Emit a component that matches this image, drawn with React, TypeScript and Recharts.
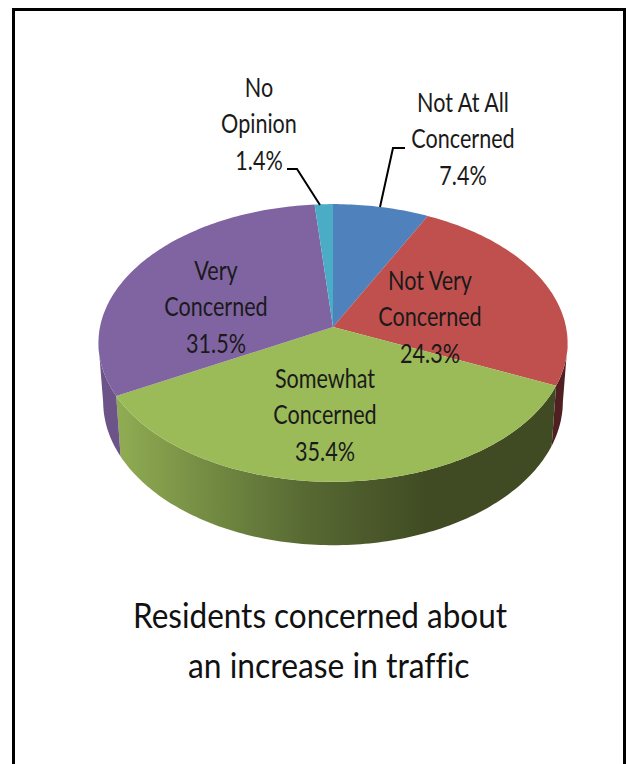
import React from "react";
import { PieChart, Pie } from "recharts";

const categories = [
  ["Not At All", "Concerned"],
  ["Not Very", "Concerned"],
  ["Somewhat", "Concerned"],
  ["Very", "Concerned"],
  ["No", "Opinion"],
];
const shares = [7.4, 24.3, 35.4, 31.5, 1.4];
const topColors = ["#4F81BD", "#C0504D", "#9BBB59", "#8064A2", "#4BACC6"];
const wallColors = ["#3B6090", "#4F1F22", "url(#greenWall)", "#6C5489", "#38819A"];

const pieData = shares.map((value, i) => ({
  name: categories[i].join(" "),
  value,
  fill: topColors[i],
  wall: wallColors[i],
  lines: categories[i],
}));

const WIDTH = 626;
const HEIGHT = 764;
const CX = 333;
const CY = 327;
const RADIUS = 233;

// perspective of the tilted disc
const TILT_Y = 137;
const PERSPECTIVE = 0.115;
const WALL_DROP = 58;
const WALL_SCALE_X = 0.98;
const WALL_SCALE_Y = 1.035;
const FONT = "Lato, 'Open Sans', sans-serif";

// label blocks: centre x, first baseline, optional leader polyline
const labelLayout = [
  { x: 463, y: 112, leader: "405,148 393,148 380,207" },
  { x: 430, y: 290 },
  { x: 325, y: 388 },
  { x: 216, y: 280 },
  { x: 259, y: 97, leader: "287,169 297,169 320,205" },
];

const project = (clockDeg: number, cx: number, cy: number, r: number) => {
  const t = (clockDeg * Math.PI) / 180;
  const w = 1 + PERSPECTIVE * Math.cos(t);
  return {
    x: cx + (r * Math.sin(t)) / w,
    y: cy - (TILT_Y * (r / RADIUS) * Math.cos(t)) / w,
  };
};

const rimPoints = (from: number, to: number, cx: number, cy: number, r: number) => {
  const steps = Math.max(2, Math.ceil(Math.abs(to - from)));
  const pts = [];
  for (let i = 0; i <= steps; i++) {
    pts.push(project(from + ((to - from) * i) / steps, cx, cy, r));
  }
  return pts;
};

const toPath = (pts: { x: number; y: number }[]) =>
  pts.map((p, i) => `${i ? "L" : "M"}${p.x.toFixed(1)},${p.y.toFixed(1)}`).join(" ");

// top face of a slice, angles come from the Pie layout
const TopFace = (props: any) => {
  const { cx, cy, outerRadius, startAngle, endAngle, fill } = props;
  const rim = rimPoints(90 - startAngle, 90 - endAngle, cx, cy, outerRadius);
  return <path d={`M${cx},${cy} ${toPath(rim).replace("M", "L")} Z`} fill={fill} />;
};

// side wall: only the part of the rim that faces the viewer
const SideWall = (props: any) => {
  const { cx, cy, outerRadius, startAngle, endAngle, wall } = props;
  const limit = (Math.acos(-PERSPECTIVE) * 180) / Math.PI;
  const a = Math.max(90 - startAngle, limit);
  const b = Math.min(90 - endAngle, 360 - limit);
  if (b <= a) return null;
  const upper = rimPoints(a, b, cx, cy, outerRadius);
  const lower = upper
    .map((p) => ({
      x: cx + (p.x - cx) * WALL_SCALE_X,
      y: cy + WALL_DROP + (p.y - cy) * WALL_SCALE_Y,
    }))
    .reverse();
  return <path d={`${toPath(upper)} ${toPath(lower).replace("M", "L")} Z`} fill={wall} />;
};

const SliceLabel = (props: any) => {
  const { index, value } = props;
  const spot = labelLayout[index];
  const rows = [...categories[index], `${value}%`];
  return (
    <g>
      {spot.leader && <polyline points={spot.leader} fill="none" stroke="#000" strokeWidth={2} />}
      {rows.map((row, i) => (
        <text
          key={row}
          transform={`translate(${spot.x},${spot.y + i * 36.4}) scale(0.83,1)`}
          textAnchor="middle"
          fontFamily={FONT}
          fontSize={26}
          fill="#1a1a1a"
        >
          {row}
        </text>
      ))}
    </g>
  );
};

export default function App() {
  return (
    <div style={{ position: "absolute", left: 0, top: 0, width: WIDTH, height: HEIGHT, overflow: "hidden", background: "#fff" }}>
      <div
        style={{
          position: "absolute",
          left: 12,
          top: 8,
          right: 0,
          bottom: 0,
          borderLeft: "3px solid #000",
          borderTop: "3px solid #000",
          borderRight: "3px solid #000",
        }}
      />
      <div style={{ position: "absolute", left: 0, top: 0 }}>
        <PieChart width={WIDTH} height={HEIGHT} margin={{ top: 0, right: 0, bottom: 0, left: 0 }}>
          <defs>
            <linearGradient id="greenWall" gradientUnits="userSpaceOnUse" x1="118" y1="0" x2="560" y2="0">
              <stop offset="0" stopColor="#90AC53" />
              <stop offset="0.2" stopColor="#748C43" />
              <stop offset="0.42" stopColor="#586A33" />
              <stop offset="0.56" stopColor="#4C5A2B" />
              <stop offset="0.7" stopColor="#404B23" />
              <stop offset="1" stopColor="#404B23" />
            </linearGradient>
          </defs>
          <Pie
            data={pieData}
            dataKey="value"
            nameKey="name"
            cx={CX}
            cy={CY}
            outerRadius={RADIUS}
            startAngle={90}
            endAngle={-270}
            stroke="none"
            shape={SideWall}
            isAnimationActive={false}
          />
          <Pie
            data={pieData}
            dataKey="value"
            nameKey="name"
            cx={CX}
            cy={CY}
            outerRadius={RADIUS}
            startAngle={90}
            endAngle={-270}
            stroke="none"
            shape={TopFace}
            label={SliceLabel}
            labelLine={false}
            isAnimationActive={false}
          />
          <text transform="translate(133,628) scale(0.9,1)" fontFamily={FONT} fontSize={35} fill="#111" style={{ fontVariantLigatures: "none" }}>
            Residents concerned about
          </text>
          <text transform="translate(188,678) scale(0.909,1)" fontFamily={FONT} fontSize={35} fill="#111" style={{ fontVariantLigatures: "none" }}>
            an increase in traffic
          </text>
        </PieChart>
      </div>
    </div>
  );
}
